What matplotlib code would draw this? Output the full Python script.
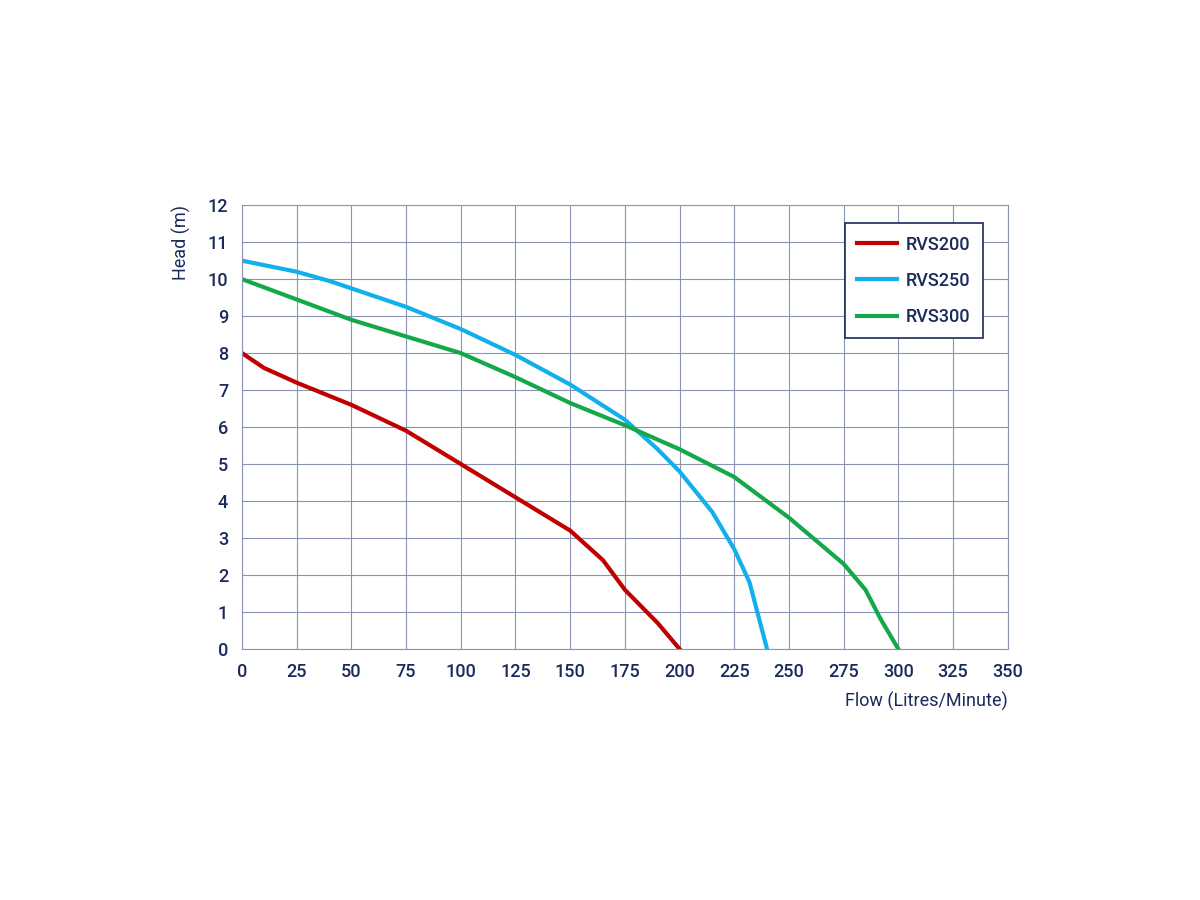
import matplotlib.pyplot as plt

# Pump curves
flow_200 = [0, 10, 25, 50, 75, 100, 125, 150, 165, 175, 190, 200]
head_200 = [8.0, 7.6, 7.2, 6.6, 5.9, 5.0, 4.1, 3.2, 2.4, 1.6, 0.7, 0.0]

flow_250 = [0, 25, 40, 50, 75, 100, 125, 150, 175, 190, 200, 215, 225, 232, 236, 240]
head_250 = [10.5, 10.2, 9.95, 9.75, 9.25, 8.65, 7.95, 7.15, 6.2, 5.4, 4.8, 3.7, 2.7, 1.8, 0.9, 0.0]

flow_300 = [0, 25, 50, 75, 100, 125, 150, 175, 200, 225, 250, 275, 285, 292, 300]
head_300 = [10.0, 9.45, 8.9, 8.45, 8.0, 7.35, 6.65, 6.05, 5.4, 4.65, 3.55, 2.3, 1.6, 0.8, 0.0]

navy = '#1b2a5c'
plt.rcParams['font.family'] = ['Roboto', 'DejaVu Sans']
plt.rcParams['font.weight'] = 'medium'

fig = plt.figure(figsize=(12, 9), dpi=100)
ax = fig.add_axes([0.2017, 0.279, 0.638, 0.493])

ax.plot(flow_200, head_200, color='#c00000', lw=3, label='RVS200', solid_joinstyle='round')
ax.plot(flow_250, head_250, color='#12b0ea', lw=3, label='RVS250', solid_joinstyle='round')
ax.plot(flow_300, head_300, color='#14a84a', lw=3, label='RVS300', solid_joinstyle='round')

ax.set_xlim(0, 350)
ax.set_ylim(0, 12)
ax.set_xticks(range(0, 351, 25))
ax.set_yticks(range(0, 13))
ax.grid(True, color='#8a93b5', lw=0.8)
for s in ax.spines.values():
    s.set_color('#8a93b5')
    s.set_linewidth(0.8)
ax.tick_params(length=0, labelsize=13, colors=navy, pad=10)

ax.set_xlabel('Flow (Litres/Minute)', fontsize=13, color=navy, loc='right', labelpad=8)
ax.set_ylabel('Head (m)', fontsize=13, color=navy, loc='top', labelpad=12)

leg = ax.legend(loc='upper right', bbox_to_anchor=(0.98, 0.98), fontsize=13,
                fancybox=False, framealpha=1, edgecolor=navy, handlelength=2.2,
                handletextpad=0.5, labelspacing=1.0, borderpad=0.7)
leg.get_frame().set_linewidth(1.2)
for t in leg.get_texts():
    t.set_color(navy)

fig.savefig('out.png')
